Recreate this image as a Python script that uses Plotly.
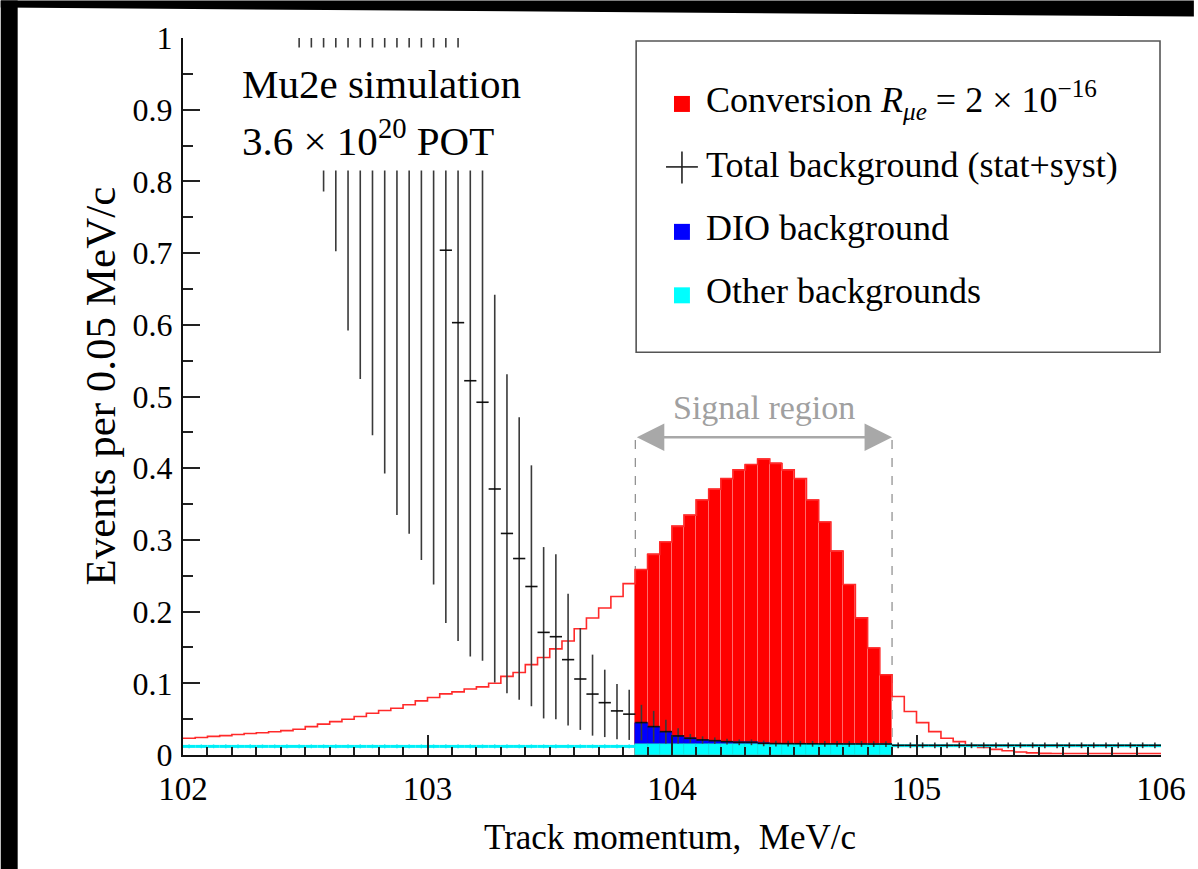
import plotly.graph_objects as go

# ---------------- data ----------------
bin_edges = [round(102.0 + 0.05 * i, 2) for i in range(81)]      # 0.05 MeV/c bins
bin_centers = [round(102.025 + 0.05 * i, 3) for i in range(80)]
signal_window = [103.85, 104.90]

# conversion electron spectrum (R_mue = 2e-16), events per bin
conversion = [
    0.0233, 0.0245, 0.0260, 0.0270, 0.0285, 0.0300, 0.0310, 0.0325, 0.0340, 0.0360,
    0.0396, 0.0430, 0.0466, 0.0499, 0.0536, 0.0583, 0.0620, 0.0653, 0.0700, 0.0755,
    0.0802, 0.0853, 0.0880, 0.0920, 0.0950, 0.1000, 0.1096, 0.1150, 0.1260, 0.1360,
    0.1480, 0.1590, 0.1760, 0.1910, 0.2050, 0.2210, 0.2390,
    0.2587, 0.2797, 0.2970, 0.3189, 0.3343, 0.3557, 0.3706, 0.3855, 0.3976, 0.4051,
    0.4126, 0.4066, 0.3976, 0.3855, 0.3557, 0.3249, 0.2843, 0.2378, 0.1912, 0.1492,
    0.1119,
    0.0816, 0.0606, 0.0452, 0.0326, 0.0233, 0.0186, 0.0140, 0.0107, 0.0079, 0.0060,
    0.0042, 0.0030, 0.0023, 0.0020, 0.0020, 0.0020, 0.0020, 0.0020, 0.0020, 0.0020,
    0.0020, 0.0020,
]

# other backgrounds (cyan)
other_bkg = [
    0.012, 0.012, 0.012, 0.012, 0.012, 0.012, 0.012, 0.012, 0.012, 0.012,
    0.012, 0.012, 0.012, 0.012, 0.012, 0.012, 0.012, 0.012, 0.012, 0.012,
    0.012, 0.012, 0.012, 0.012, 0.012, 0.012, 0.012, 0.012, 0.012, 0.012,
    0.012, 0.012, 0.012, 0.012, 0.012, 0.012, 0.012,
    0.015, 0.015, 0.015, 0.015, 0.015, 0.015, 0.015, 0.015, 0.015, 0.015,
    0.015, 0.015, 0.015, 0.015, 0.015, 0.015, 0.015, 0.015, 0.015, 0.015,
    0.015,
    0.013, 0.013, 0.013, 0.013, 0.013, 0.013, 0.013, 0.013, 0.013, 0.013,
    0.013, 0.013, 0.013, 0.013, 0.013, 0.013, 0.013, 0.013, 0.013, 0.013,
    0.013, 0.013,
]

# DIO background inside the signal window (blue, stacked on cyan)
dio_signal = [
    0.0302, 0.0246, 0.0176, 0.0116, 0.0083, 0.0060, 0.0050, 0.0036, 0.0027, 0.0027,
    0.0012, 0.0009, 0.0008, 0.0007, 0.0006, 0.0005, 0.0005, 0.0004, 0.0004, 0.0003,
    0.0003,
]

# total background (stat+syst) with asymmetric errors; None = off-scale
total_bkg = [
    None, None, None, None, None, None, None, None, None, 3.60,
    3.30, 2.95, 2.65, 2.25, 2.00, 1.70, 1.50, 1.27, 1.17, 1.03,
    0.900, 0.704, 0.603, 0.522, 0.492, 0.371, 0.309, 0.274, 0.235, 0.171,
    0.165, 0.133, 0.106, 0.085, 0.073, 0.0615, 0.057,
    0.0452, 0.0396, 0.0326, 0.0266, 0.0233, 0.0210, 0.0200, 0.0186, 0.0177, 0.0177,
    0.0162, 0.0159, 0.0158, 0.0157, 0.0156, 0.0155, 0.0155, 0.0154, 0.0154, 0.0153,
    0.0153,
    0.0135, 0.0135, 0.0135, 0.0135, 0.0135, 0.0135, 0.0135, 0.0135, 0.0135, 0.0135,
    0.0135, 0.0135, 0.0135, 0.0135, 0.0135, 0.0135, 0.0135, 0.0135, 0.0135, 0.0135,
    0.0135, 0.0135,
]
total_upper = [
    None, None, None, None, None, None, None, None, None, 6.24,
    5.73, 5.11, 4.60, 3.91, 3.48, 2.95, 2.61, 2.20, 2.03, 1.79,
    1.56, 1.22, 1.05, 0.906, 0.853, 0.642, 0.531, 0.471, 0.404, 0.290,
    0.280, 0.225, 0.177, 0.140, 0.119, 0.099, 0.091,
    0.0700, 0.0615, 0.0490, 0.0373, 0.0294, 0.0260, 0.0245, 0.0226, 0.0217, 0.0217,
    0.0202, 0.0199, 0.0198, 0.0197, 0.0196, 0.0195, 0.0195, 0.0194, 0.0194, 0.0193,
    0.0193,
    0.0175, 0.0175, 0.0175, 0.0175, 0.0175, 0.0175, 0.0175, 0.0175, 0.0175, 0.0175,
    0.0175, 0.0175, 0.0175, 0.0175, 0.0175, 0.0175, 0.0175, 0.0175, 0.0175, 0.0175,
    0.0175, 0.0175,
]
total_lower = [
    None, None, None, None, None, None, None, None, None, 0.960,
    0.870, 0.786, 0.7025, 0.592, 0.5245, 0.446, 0.3926, 0.3347, 0.3087, 0.2718,
    0.2378, 0.184, 0.159, 0.1375, 0.1315, 0.101, 0.086, 0.077, 0.068, 0.051,
    0.050, 0.041, 0.035, 0.027, 0.025, 0.022, 0.021,
    0.0204, 0.0177, 0.0162, 0.0159, 0.0172, 0.0160, 0.0155, 0.0146, 0.0137, 0.0137,
    0.0122, 0.0119, 0.0118, 0.0117, 0.0116, 0.0115, 0.0115, 0.0114, 0.0114, 0.0113,
    0.0113,
    0.0095, 0.0095, 0.0095, 0.0095, 0.0095, 0.0095, 0.0095, 0.0095, 0.0095, 0.0095,
    0.0095, 0.0095, 0.0095, 0.0095, 0.0095, 0.0095, 0.0095, 0.0095, 0.0095, 0.0095,
    0.0095, 0.0095,
]

x_ticks = [102, 103, 104, 105, 106]
y_ticks = [0, 0.1, 0.2, 0.3, 0.4, 0.5, 0.6, 0.7, 0.8, 0.9, 1]

# ---------------- layout geometry (pixels) ----------------
W, H = 1198, 869
L, R, T, B = 183, 33, 37.5, 114
PW, PH = W - L - R, H - T - B


def px(xp):
    return (xp - L) / PW


def py(yp):
    return (H - B - yp) / PH


FONT = "Liberation Serif"

in_sig = [signal_window[0] < c < signal_window[1] for c in bin_centers]
sig_x = [c for c, s in zip(bin_centers, in_sig) if s]
sig_conv = [v for v, s in zip(conversion, in_sig) if s]
sig_other = [v for v, s in zip(other_bkg, in_sig) if s]
out_x = [c for c, s in zip(bin_centers, in_sig) if not s]
out_other = [v for v, s in zip(other_bkg, in_sig) if not s]

bk_x, bk_y, bk_up, bk_dn = [], [], [], []
for c, v, u, d in zip(bin_centers, total_bkg, total_upper, total_lower):
    if v is None:
        continue
    bk_x.append(c)
    bk_y.append(v)
    bk_up.append(u - v)
    bk_dn.append(v - d)

fig = go.Figure()

# red outline over the full range
fig.add_trace(go.Scatter(
    x=bin_edges, y=conversion + [conversion[-1]], mode="lines",
    line=dict(shape="hv", color="#ff2a2a", width=1.6), hoverinfo="skip"))

# filled conversion in the signal window
fig.add_trace(go.Bar(
    x=sig_x, y=sig_conv, width=0.05,
    marker=dict(color="#ff0000", line=dict(color="#ff6a6a", width=1))))

# DIO (blue) stacked on other backgrounds
fig.add_trace(go.Bar(
    x=sig_x, y=dio_signal, base=sig_other, width=0.05,
    marker=dict(color="#0000ff", line=dict(color="#0000c0", width=0.5))))

# other backgrounds (cyan) fill in the window
fig.add_trace(go.Bar(
    x=sig_x, y=sig_other, width=0.05,
    marker=dict(color="#00ffff", line=dict(color="#00e0e0", width=0.5))))

# other backgrounds outside the window: points with bin-width bars
fig.add_trace(go.Scatter(
    x=out_x, y=out_other, mode="markers",
    marker=dict(size=1, color="#00e8f0"),
    error_x=dict(type="constant", value=0.025, color="#00f0f8", thickness=3, width=0),
    error_y=dict(type="constant", value=0.0025, color="#00c8d8", thickness=1.4, width=0)))

# total background crosses
fig.add_trace(go.Scatter(
    x=bk_x, y=bk_y, mode="markers",
    marker=dict(size=1, color="black"),
    error_x=dict(type="constant", value=0.025, color="#111111", thickness=1.6, width=0),
    error_y=dict(type="data", symmetric=False, array=bk_up, arrayminus=bk_dn,
                 color="#3a3a3a", thickness=1.6, width=0)))

shapes = []
# signal window dashed lines
for xv in signal_window:
    shapes.append(dict(type="line", xref="x", yref="y", x0=xv, x1=xv, y0=0, y1=0.448,
                       line=dict(color="#8a8a8a", width=1.2, dash="dash"), layer="below"))

# white text box hiding part of the error bars
shapes.append(dict(type="rect", xref="paper", yref="paper",
                   x0=px(232), x1=px(530), y0=py(170), y1=py(47),
                   fillcolor="white", line=dict(width=0), layer="above"))

# legend box
shapes.append(dict(type="rect", xref="paper", yref="paper",
                   x0=px(638), x1=px(1164), y0=py(352), y1=py(40.5),
                   fillcolor="white", line=dict(color="#555555", width=1.6), layer="above"))
for col, yc in [("#ff0000", 103.5), ("#0000ff", 231.5), ("#00ffff", 295)]:
    shapes.append(dict(type="rect", xref="paper", yref="paper",
                       x0=px(676), x1=px(692), y0=py(yc + 8), y1=py(yc - 8),
                       fillcolor=col, line=dict(width=0), layer="above"))
shapes.append(dict(type="line", xref="paper", yref="paper",
                   x0=px(668), x1=px(700), y0=py(166.5), y1=py(166.5),
                   line=dict(color="#222222", width=1.6), layer="above"))
shapes.append(dict(type="line", xref="paper", yref="paper",
                   x0=px(684), x1=px(684), y0=py(151), y1=py(183),
                   line=dict(color="#222222", width=1.6), layer="above"))

# black border of the scan (top band slightly slanted, left band)
shapes.append(dict(type="path", xref="paper", yref="paper",
                   path=f"M {px(0)},{py(7)} L {px(W)},{py(16)} L {px(W)},{py(0)} L {px(0)},{py(0)} Z",
                   fillcolor="black", line=dict(width=0), layer="above"))
shapes.append(dict(type="rect", xref="paper", yref="paper",
                   x0=px(0), x1=px(17), y0=py(H), y1=py(0),
                   fillcolor="black", line=dict(width=0), layer="above"))

annotations = []
tf = dict(family=FONT, color="black")
annotations.append(dict(xref="paper", yref="paper", x=px(240), y=py(84), xanchor="left",
                        yanchor="middle", showarrow=False, text="Mu2e simulation",
                        font=dict(size=41, **tf)))
annotations.append(dict(xref="paper", yref="paper", x=px(240), y=py(138), xanchor="left",
                        yanchor="middle", showarrow=False,
                        text="3.6 × 10<sup>20</sup> POT", font=dict(size=41, **tf)))

leg_items = [
    (100, "Conversion <i>R</i><sub><i>μe</i></sub> = 2 × 10<sup>−16</sup>"),
    (164.5, "Total background (stat+syst)"),
    (227.5, "DIO background"),
    (291, "Other backgrounds"),
]
for yc, txt in leg_items:
    annotations.append(dict(xref="paper", yref="paper", x=px(706), y=py(yc), xanchor="left",
                            yanchor="middle", showarrow=False, text=txt,
                            font=dict(size=36, **tf)))

# signal region arrow and label
annotations.append(dict(xref="x", yref="y", x=signal_window[1], y=0.443,
                        ax=signal_window[0], ay=0.443, axref="x", ayref="y",
                        text="", showarrow=True, arrowside="end+start",
                        arrowhead=2, startarrowhead=2, arrowsize=2.2, startarrowsize=2.2,
                        arrowwidth=2.5, arrowcolor="#a8a8a8"))
annotations.append(dict(xref="x", yref="y", x=(signal_window[0] + signal_window[1]) / 2,
                        y=0.485, xanchor="center", yanchor="middle", showarrow=False,
                        text="Signal region",
                        font=dict(size=34, family=FONT, color="#a0a0a0")))

# axis titles
annotations.append(dict(xref="paper", yref="paper", x=px(672), y=py(838),
                        xanchor="center", yanchor="middle", showarrow=False,
                        text="Track momentum,\u00a0 MeV/c", font=dict(size=35, **tf)))
annotations.append(dict(xref="paper", yref="paper", x=px(100), y=py(386),
                        xanchor="center", yanchor="middle", showarrow=False,
                        textangle=-90, text="Events per 0.05 MeV/c",
                        font=dict(size=43, **tf)))

fig.update_layout(
    width=W, height=H,
    margin=dict(l=L, r=R, t=T, b=B, pad=0),
    paper_bgcolor="white", plot_bgcolor="white",
    barmode="overlay", bargap=0, showlegend=False,
    shapes=shapes, annotations=annotations,
    font=dict(family=FONT, color="black"),
)
fig.update_xaxes(
    range=[102, 106], tickvals=x_ticks, ticktext=[str(v) for v in x_ticks],
    showline=True, linecolor="#111111", linewidth=2, mirror=False,
    ticks="inside", ticklen=20, tickwidth=1.6, tickcolor="#222222",
    minor=dict(ticks="inside", ticklen=8, dtick=0.1, tick0=102, tickwidth=1.6,
               tickcolor="#222222", showgrid=False),
    showgrid=False, zeroline=False, tickfont=dict(size=33, family=FONT, color="black"),
    ticklabelstandoff=3,
)
fig.update_yaxes(
    range=[0, 1], tickvals=y_ticks, ticktext=[("%g" % v) for v in y_ticks],
    showline=True, linecolor="#111111", linewidth=2, mirror=False,
    ticks="inside", ticklen=17, tickwidth=1.6, tickcolor="#222222",
    minor=dict(ticks="inside", ticklen=10, dtick=0.05, tick0=0, tickwidth=1.6,
               tickcolor="#222222", showgrid=False),
    showgrid=False, zeroline=False, tickfont=dict(size=32, family=FONT, color="black"),
    ticklabelstandoff=2,
)

fig.write_html(
    "out.html",
    config={"displayModeBar": False},
    post_script="document.body.style.margin='0';document.body.style.overflow='hidden';"
                "document.body.style.background='black';",
)
